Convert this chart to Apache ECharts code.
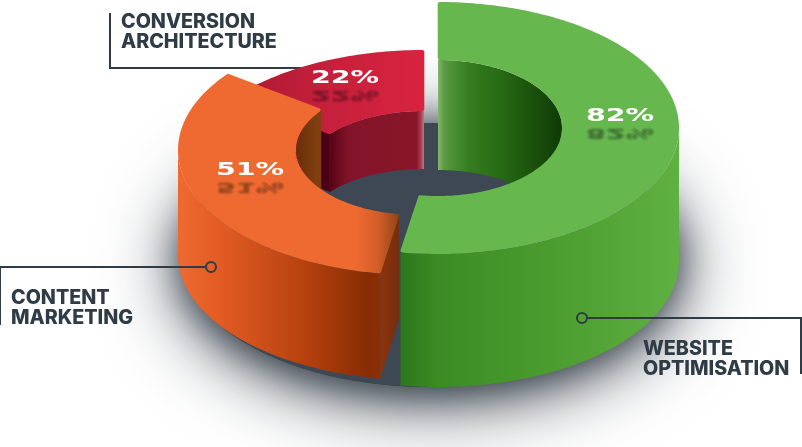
<!DOCTYPE html>
<html><head><meta charset="utf-8">
<style>html,body{margin:0;padding:0;background:#fff}#c{width:802px;height:447px}</style>
<script src="https://cdn.jsdelivr.net/npm/echarts@6/dist/echarts.min.js"></script>
</head><body><div id="c"></div>
<script>
const categories = ['WEBSITE\nOPTIMISATION', 'CONTENT\nMARKETING', 'CONVERSION\nARCHITECTURE'];
const values = [82, 51, 22];

const total = values.reduce((a, b) => a + b, 0);
const grad = (x0, x1, stops) => ({type:'linear', global:true, x:x0, y:0, x2:x1, y2:0,
  colorStops: stops.map(s => ({offset:s[0], color:s[1]}))});

const layout = [
 {cx:438, cy:128, rx:241, ry:126, ix:124, iy:68, h:133, wall:110, rot:0, endInset:1.5,
  face:'#66b74e',
  outer:grad(400,680,[[0,'#2b771b'],[.14,'#3c8c25'],[.6,'#4c9f30'],[1,'#5fb142']]),
  inner:grad(438,562,[[0,'#86b56b'],[.05,'#5a9a42'],[.25,'#347d1f'],[.5,'#276b14'],[1,'#0f3a06']]),
  wallFrom:0, wallTo:100, outerFrom:90, label:[620,116]},
 {cx:418, cy:150, rx:240, ry:125, ix:122, iy:65, h:105, wall:105, rot:-1.45, endInset:0,
  face:grad(178,400,[[0,'#ef6a30'],[.8,'#ef6a30'],[.9,'#d25e28'],[1,'#8e4416']]),
  outer:grad(178,385,[[0,'#ee6a30'],[.2,'#e25c24'],[.6,'#b8420f'],[.92,'#872c03'],[1,'#8a3208']]),
  inner:grad(296,317,[[0,'#6a2d0c'],[1,'#7f3f0f']]),
  cut:grad(378,402,[[0,'#92340a'],[1,'#6f2d10']]),
  wallFrom:250, wallTo:360, outerFrom:180, label:[250,170]},
 {cx:424, cy:173, rx:240, ry:123, ix:121, iy:62, h:58, wall:58, rot:0, endInset:0,
  face:grad(240,424,[[0,'#ae1a32'],[.5,'#c6203c'],[1,'#d9233f']]),
  inner:grad(317,424,[[0,'#4b0013'],[.14,'#5b0519'],[.3,'#84142a'],[.93,'#881628'],[.97,'#a83c50'],[1,'#c87585']]),
  cut:'#4b0013', wallFrom:270, wallTo:360, label:[345,78]}
];

function arc(cx, cy, rx, ry, a0, a1, dy) {
  const pts = [], n = Math.max(2, Math.ceil(Math.abs(a1 - a0)));
  for (let i = 0; i <= n; i++) {
    const t = (a0 + (a1 - a0) * i / n) * Math.PI / 180;
    pts.push([cx + rx * Math.sin(t), cy - ry * Math.cos(t) + (dy || 0)]);
  }
  return pts;
}

let cum = 0;
const spans = values.map(v => { const s = [cum, cum + v / total * 360]; cum = s[1]; return s; });
const smear = [[-2,0],[2,0],[-1,-1],[1,-1],[-1,1],[1,1],[0,-2],[0,2],[0,0]];

function renderItem(params, api) {
  const i = api.value(0), v = api.value(1), L = layout[i];
  const a0 = spans[i][0] + L.rot, a1 = spans[i][1] + L.rot - L.endInset;
  const kids = [];
  const poly = (points, fill) => kids.push({type:'polygon', shape:{points}, style:{fill}});
  if (L.outer) {
    const from = Math.max(a0, L.outerFrom), to = Math.min(a1, 270);
    poly(arc(L.cx,L.cy,L.rx,L.ry,from,to).concat(arc(L.cx,L.cy,L.rx,L.ry,to,from,L.h)), L.outer);
  }
  if (L.cut) {
    const pts = [arc(L.cx,L.cy,L.ix,L.iy,a0,a0)[0], arc(L.cx,L.cy,L.rx,L.ry,a0,a0)[0]];
    pts.push([pts[1][0], pts[1][1] + L.h], [pts[0][0], pts[0][1] + L.h]);
    poly(pts, L.cut);
  }
  const wf = Math.max(a0, L.wallFrom), wt = Math.min(a1, L.wallTo);
  // the far inner wall never shows below the near rim of the hole
  const lower = arc(L.cx,L.cy,L.ix,L.iy,wt,wf,L.wall).map(p => {
    const d = (p[0] - L.cx) / L.ix;
    return [p[0], Math.min(p[1], L.cy + L.iy * Math.sqrt(Math.max(0, 1 - d * d)) + 3)];
  });
  poly(arc(L.cx,L.cy,L.ix,L.iy,wf,wt).concat(lower), L.inner);
  const pad = 2;
  kids.push({type:'polygon',
    shape:{points: arc(L.cx,L.cy,L.rx-pad,L.ry-pad,a0+.4,a1-.4).concat(arc(L.cx,L.cy,L.ix+pad,L.iy+pad,a1-.8,a0+.8))},
    style:{fill:L.face, stroke:L.face, lineWidth:4, lineJoin:'round'}});
  const [lx, ly] = L.label, text = v + '%';
  const base = {font:'bold 19px "DejaVu Sans"', text, align:'center', verticalAlign:'middle', x:0, y:0};
  smear.forEach(o => kids.push({type:'text', x:lx+o[0], y:ly+16+o[1], scaleX:1.5, scaleY:-0.7,
    style:Object.assign({}, base, {fill:'rgba(20,20,20,.055)'})}));
  kids.push({type:'text', x:lx, y:ly, scaleX:1.5, scaleY:.95, style:Object.assign({}, base, {fill:'#fff'})});
  return {type:'group', children:kids};
}

const ink = '#2f3b45';
const labelFont = '800 19.7px Inter';
const labelText = (text, x, y) => ({type:'text', z:100, x, y,
  style:{text, fill:ink, font:labelFont, lineHeight:20, align:'left', verticalAlign:'middle'}});
const lead = (points, z) => ({type:'polyline', z, shape:{points}, style:{stroke:ink, lineWidth:2, fill:null}});
const dot = (x, y) => ({type:'circle', z:100, shape:{cx:x, cy:y, r:5}, style:{fill:'transparent', stroke:ink, lineWidth:2}});

const chart = echarts.init(document.getElementById('c'), null, {renderer:'canvas'});
chart.setOption({
  animation:false,
  backgroundColor:'#fff',
  graphic:[
    {type:'ellipse', z:0, shape:{cx:430, cy:255, rx:248, ry:132},
     style:{fill:'#3d4854', shadowBlur:80, shadowColor:'rgba(45,55,65,1)', shadowOffsetY:10}},
    {type:'ellipse', z:0, shape:{cx:430, cy:255, rx:248, ry:132},
     style:{fill:'#3d4854', shadowBlur:35, shadowColor:'rgba(45,55,65,.8)', shadowOffsetY:4}},
    lead([[110,13],[110,68],[310,68]], 1),
    lead([[205,267],[0,267],[0,325]], 100),
    lead([[587,318],[801,318],[801,374]], 100),
    dot(211,267), dot(582,318),
    labelText(categories[0], 643, 359),
    labelText(categories[1], 11, 308),
    labelText(categories[2], 121, 32)
  ],
  series:[{
    type:'custom', coordinateSystem:'none', z:2, silent:true, clip:false,
    renderItem,
    data: values.map((v, i) => [i, v]).reverse()
  }]
});
</script></body></html>
